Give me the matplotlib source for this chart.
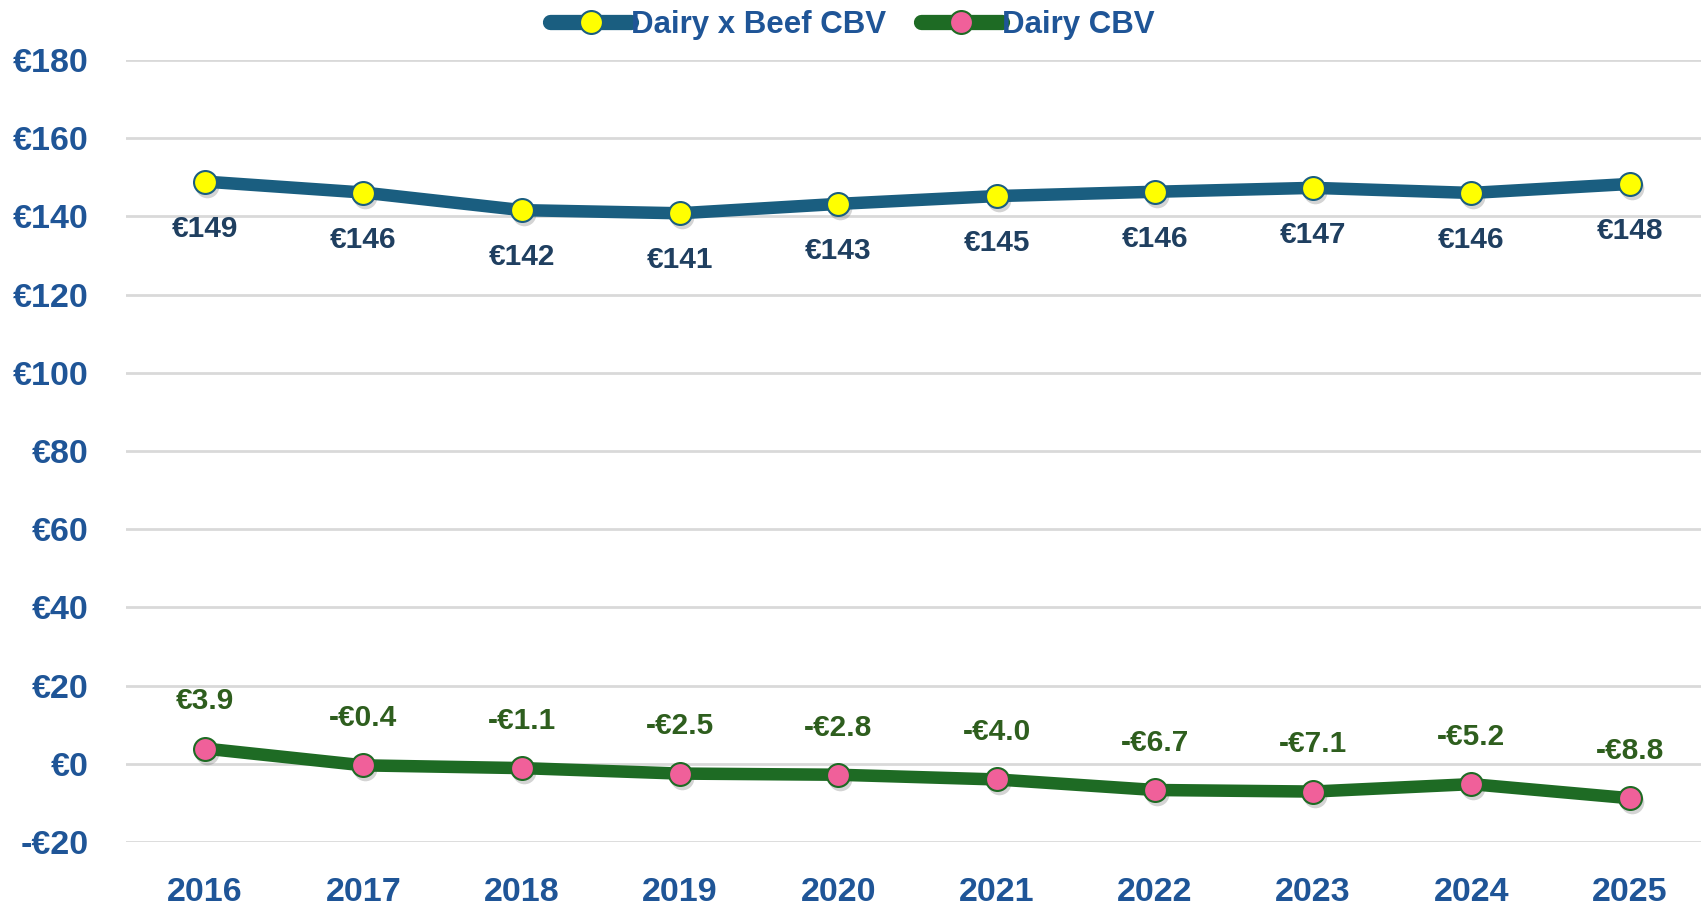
import matplotlib
matplotlib.use("Agg")
import matplotlib.pyplot as plt
import matplotlib.transforms as mtransforms
import numpy as np

years = ['2016', '2017', '2018', '2019', '2020', '2021', '2022', '2023', '2024', '2025']
beef_cbv = [148.9, 146.1, 141.6, 140.8, 143.2, 145.2, 146.3, 147.3, 146.0, 148.3]
dairy_cbv = [3.9, -0.4, -1.1, -2.5, -2.8, -4.0, -6.7, -7.1, -5.2, -8.8]
yticks = [-20, 0, 20, 40, 60, 80, 100, 120, 140, 160, 180]

plt.rcParams['font.family'] = ['Liberation Sans', 'DejaVu Sans']
plt.rcParams['font.weight'] = 'bold'

tick_col = '#1F5597'
beef_line = '#1A5E80'
dairy_line = '#1E6B24'

fig = plt.figure(figsize=(17.01, 9.06), dpi=100)
ax = fig.add_axes([126 / 1701, 64 / 906, 1 - 126 / 1701, 782 / 906])

x = np.arange(len(years))

# soft shadows under the markers
shadow = mtransforms.offset_copy(ax.transData, fig=fig, x=2, y=-4, units='dots')
ax.plot(x, beef_cbv, 'o', ms=17, color='#555555', alpha=0.25, mec='none', transform=shadow, zorder=2)
ax.plot(x, dairy_cbv, 'o', ms=17, color='#555555', alpha=0.25, mec='none', transform=shadow, zorder=2)

ax.plot(x, beef_cbv, '-o', color=beef_line, lw=9, ms=16.5, mfc='#FFFF00', mec=beef_line, mew=1.5,
        solid_capstyle='round', label='Dairy x Beef CBV', zorder=3)
ax.plot(x, dairy_cbv, '-o', color=dairy_line, lw=9, ms=16.5, mfc='#F0609A', mec=dairy_line, mew=1.5,
        solid_capstyle='round', label='Dairy CBV', zorder=3)

for i in range(len(years)):
    ax.annotate('€{:.0f}'.format(beef_cbv[i]), (x[i], beef_cbv[i]), xytext=(0, -34),
                textcoords='offset points', ha='center', va='center', fontsize=21.5,
                color='#1F3F60', fontweight='bold')
    v = dairy_cbv[i]
    txt = ('-€{:.1f}'.format(-v) if v < 0 else '€{:.1f}'.format(v))
    ax.annotate(txt, (x[i], v), xytext=(0, 34), textcoords='offset points',
                ha='center', va='center', fontsize=21.5, color='#2E5E1E', fontweight='bold')

ax.set_xlim(-0.5, 9.45)
ax.set_ylim(-20, 180)
ax.set_yticks(yticks)
ax.set_yticklabels([('-€{}'.format(-t) if t < 0 else '€{}'.format(t)) for t in yticks])
ax.set_xticks(x)
ax.set_xticklabels(years)
ax.tick_params(axis='both', length=0, labelsize=24.5, labelcolor=tick_col)
ax.tick_params(axis='y', pad=27)
ax.tick_params(axis='x', pad=25)
for lbl in ax.get_xticklabels() + ax.get_yticklabels():
    lbl.set_fontweight('bold')

ax.grid(axis='y', color='#D9D9D9', lw=2)
ax.set_axisbelow(True)
for s in ax.spines.values():
    s.set_visible(False)

leg = fig.legend(loc='center', bbox_to_anchor=(0.501, 0.972), ncol=2, frameon=False,
                 fontsize=22.5, handlelength=2.6, handletextpad=0.0, columnspacing=1.1)
for h in leg.legend_handles:
    h.set_linewidth(11)
for t in leg.get_texts():
    t.set_color(tick_col)
    t.set_fontweight('bold')

fig.savefig('out.png', dpi=100)
